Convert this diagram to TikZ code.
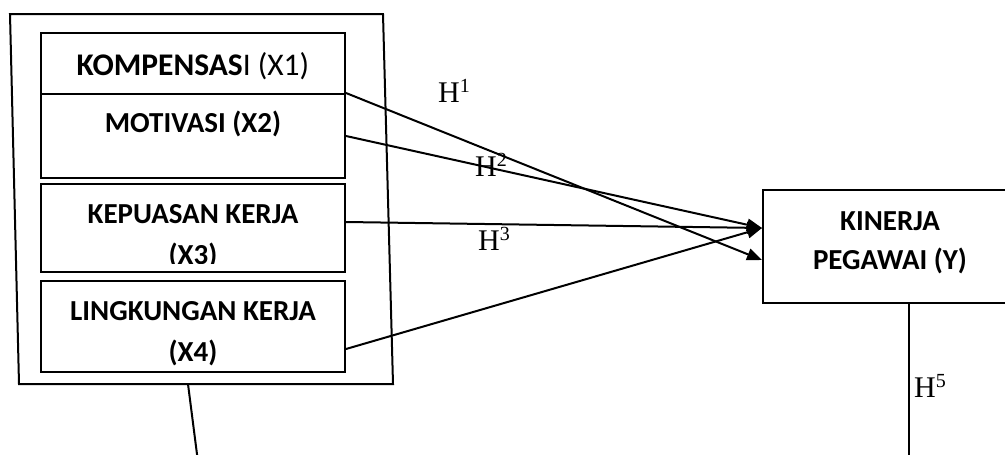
\documentclass[tikz,border=0pt]{standalone}
\usepackage{fontspec}
\setmainfont{Carlito}
\newfontfamily\hfont{Liberation Serif}
\usetikzlibrary{arrows.meta,calc}
\begin{document}
\begin{tikzpicture}[x=1pt,y=-1pt,
  box/.style={draw,line width=2pt,inner sep=0pt,minimum width=304pt},
  lbl/.style={font=\fontsize{29}{35}\selectfont\bfseries,anchor=base,inner sep=0pt},
  biglbl/.style={lbl,font=\fontsize{31.5}{38}\selectfont\bfseries},
  hyp/.style={font=\hfont\fontsize{30}{36}\selectfont,anchor=base west,inner sep=0pt},
  conn/.style={line width=2pt},
  arr/.style={conn,-{Triangle[length=15pt,width=12pt]}}]
\useasboundingbox (0,0) rectangle (1005,455);
\clip (0,0) rectangle (1005,455);

% outer frame grouping the independent variables
\coordinate (f1) at (10,14);
\coordinate (f2) at (383,14);
\coordinate (f3) at (393,384);
\coordinate (f4) at (19,384);
\draw[conn] (f1) -- (f2) -- (f3) -- (f4) -- cycle;
\coordinate (fb) at (188,384);
\coordinate (fe) at (198,462);
\draw[conn] (fb) -- (fe);

% variable boxes
\node[box,minimum height=61pt] (b1) at (193,63.5) {};
\node[box,minimum height=84pt] (b2) at (193,136) {};
\node[box,minimum height=88pt] (b3) at (193,228) {};
\node[box,minimum height=91pt] (b4) at (193,326.5) {};
\node[box,minimum width=254pt,minimum height=113pt] (Y) at (890,246.5) {};

% box labels
\node[biglbl] (t1) at (193,75) {KOMPENSAS\textmd{I (X1)}};
\node[lbl] (t2) at (193,132) {MOTIVASI (X2)};
\node[lbl] (t3) at (193,223) {KEPUASAN KERJA};
\begin{scope}
  \clip (41,184) rectangle (345,263);
  \node[lbl] (t3b) at (193,264) {(X3)};
\end{scope}
\node[lbl] (t4) at (193,320) {LINGKUNGAN KERJA};
\node[lbl] (t4b) at (193,361) {(X4)};
\node[lbl] (ty) at (890,230) {KINERJA};
\node[lbl] (tyb) at (890,269) {PEGAWAI (Y)};

% hypothesis paths
\coordinate (yin) at (762,228);
\coordinate (yin2) at (762,260);
\draw[arr] ($(b1.south east)+(0,-2)$) -- (yin2);
\draw[arr] (b2.east) -- (yin);
\draw[arr] ($(b3.east)+(0,-6)$) -- (yin);
\draw[arr] ($(b4.east)+(0,22.5)$) -- (yin);
\draw[conn] ($(Y.south)+(19,0)$) -- ($(Y.south)+(19,160)$);

% hypothesis labels
\node[hyp] (h1) at (438,102) {H\raisebox{10pt}{\fontsize{20}{20}\selectfont 1}};
\node[hyp] (h2) at (475,176) {H\raisebox{10pt}{\fontsize{20}{20}\selectfont 2}};
\node[hyp] (h3) at (478,250) {H\raisebox{10pt}{\fontsize{20}{20}\selectfont 3}};
\node[hyp] (h5) at (914,397) {H\raisebox{10pt}{\fontsize{20}{20}\selectfont 5}};
\end{tikzpicture}
\end{document}
